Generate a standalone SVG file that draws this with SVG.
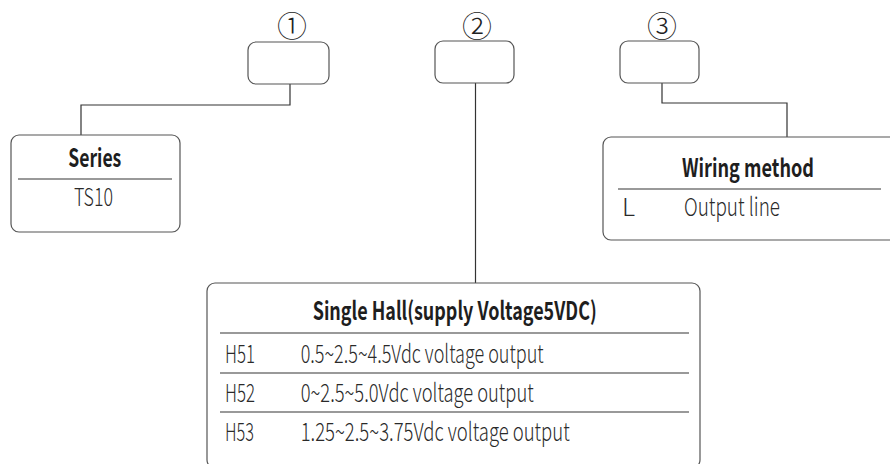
<svg xmlns="http://www.w3.org/2000/svg" width="890" height="464" viewBox="0 0 890 464">
<style>
.box{fill:#fff;stroke:#555;stroke-width:1.2}
.div{stroke:#777;stroke-width:1.3}
.con{fill:none;stroke:#333;stroke-width:1.2}
.t{font-family:"Noto Sans CJK SC","Noto Sans",sans-serif;fill:#2a2a2a;font-size:25px;font-weight:300}
.b{font-weight:bold;fill:#1e1e1e}
.num{font-family:"Noto Sans CJK SC","DejaVu Sans",sans-serif;fill:#222;font-size:30px;font-weight:300;text-anchor:middle}
</style>
<rect width="890" height="464" fill="#fff"/>
<g id="connectors">
<path class="con" d="M290 84 V105 H81 V135"/>
<path class="con" d="M475.5 83 V283"/>
<path class="con" d="M662 83 V103 H787 V137"/>
</g>
<g id="code1">
<text class="num" x="292" y="37">①</text>
<rect class="box" x="248" y="42" width="81" height="42" rx="8"/>
</g>
<g id="code2">
<text class="num" x="477" y="37">②</text>
<rect class="box" x="435" y="41" width="79" height="42" rx="8"/>
</g>
<g id="code3">
<text class="num" x="662" y="37">③</text>
<rect class="box" x="620" y="41" width="79" height="42" rx="8"/>
</g>
<g id="series">
<rect class="box" x="11" y="135" width="169" height="97" rx="8"/>
<line class="div" x1="18" y1="179" x2="172" y2="179"/>
<text class="t b" x="68.3" y="167" textLength="53" lengthAdjust="spacingAndGlyphs">Series</text>
<text class="t" x="74" y="206" textLength="39" lengthAdjust="spacingAndGlyphs">TS10</text>
</g>
<g id="wiring">
<rect class="box" x="603" y="137" width="300" height="103" rx="8"/>
<line class="div" x1="618" y1="189" x2="881" y2="189"/>
<text class="t b" x="682" y="177" textLength="132" lengthAdjust="spacingAndGlyphs">Wiring method</text>
<text class="t" x="622" y="216">L</text>
<text class="t" x="684" y="216" textLength="96" lengthAdjust="spacingAndGlyphs">Output line</text>
</g>
<g id="hall">
<rect class="box" x="207" y="283" width="493" height="185" rx="8"/>
<line class="div" x1="220" y1="333" x2="689" y2="333"/>
<line class="div" x1="220" y1="373" x2="689" y2="373"/>
<line class="div" x1="220" y1="412" x2="689" y2="412"/>
<text class="t b" x="312.7" y="320" textLength="284" lengthAdjust="spacingAndGlyphs">Single Hall(supply Voltage5VDC)</text>
<text class="t" x="225" y="363" textLength="30" lengthAdjust="spacingAndGlyphs">H51</text>
<text class="t" x="300.7" y="363" textLength="243" lengthAdjust="spacingAndGlyphs">0.5~2.5~4.5Vdc voltage output</text>
<text class="t" x="225" y="402" textLength="30" lengthAdjust="spacingAndGlyphs">H52</text>
<text class="t" x="300.7" y="402" textLength="233" lengthAdjust="spacingAndGlyphs">0~2.5~5.0Vdc voltage output</text>
<text class="t" x="225" y="441" textLength="29" lengthAdjust="spacingAndGlyphs">H53</text>
<text class="t" x="300.7" y="441" textLength="269" lengthAdjust="spacingAndGlyphs">1.25~2.5~3.75Vdc voltage output</text>
</g>
</svg>
